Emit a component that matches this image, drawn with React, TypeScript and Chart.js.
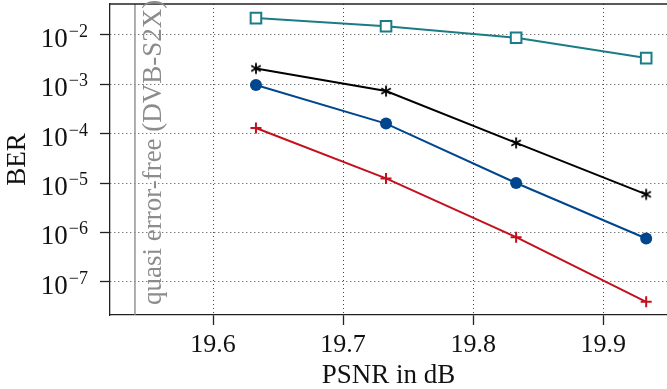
import React, { useEffect, useRef } from "react";
import { Chart, registerables } from "chart.js";

Chart.register(...registerables);

// ---- data ----
const PSNR = [19.633, 19.733, 19.833, 19.933];
const BER_TEAL = [2.2e-2, 1.5e-2, 8.8e-3, 3.4e-3];
const BER_BLACK = [2.1e-3, 7.3e-4, 6.5e-5, 5.9e-6];
const BER_BLUE = [9.7e-4, 1.6e-4, 1.0e-5, 7.5e-7];
const BER_RED = [1.3e-4, 1.24e-5, 8.0e-7, 3.9e-8];

const X_TICKS = [19.6, 19.7, 19.8, 19.9];
const Y_TICK_EXPONENTS = [-7, -6, -5, -4, -3, -2];

const X_MIN = 19.5208;
const X_MAX = 19.949;
const Y_MIN_EXP = -7.675;
const Y_MAX_EXP = -1.372;

const QEF_PSNR = 19.54;
const QEF_LABEL = "quasi error-free (DVB-S2X)";

const X_TITLE = "PSNR in dB";
const Y_TITLE = "BER";

const FONT = "'Liberation Serif', 'Times New Roman', serif";

function makeAsterisk(): HTMLCanvasElement {
  const c = document.createElement("canvas");
  c.width = 14;
  c.height = 14;
  const g = c.getContext("2d")!;
  g.strokeStyle = "#000";
  g.lineWidth = 1.8;
  g.lineCap = "butt";
  const r = 5.5;
  for (const a of [90, 30, 150]) {
    const rad = (a * Math.PI) / 180;
    g.beginPath();
    g.moveTo(7 - r * Math.cos(rad), 7 - r * Math.sin(rad));
    g.lineTo(7 + r * Math.cos(rad), 7 + r * Math.sin(rad));
    g.stroke();
  }
  return c;
}

const overlayPlugin = {
  id: "overlay",
  afterDraw(chart: any) {
    const { ctx, chartArea, scales } = chart;
    const y = scales.y;
    const x = scales.x;
    ctx.save();
    // top frame line
    ctx.strokeStyle = "#222";
    ctx.lineWidth = 1.3;
    ctx.beginPath();
    ctx.moveTo(chartArea.left, chartArea.top);
    ctx.lineTo(chartArea.right, chartArea.top);
    ctx.stroke();

    // y tick labels 10^n
    ctx.fillStyle = "#111";
    for (const e of Y_TICK_EXPONENTS) {
      const py = y.getPixelForValue(Math.pow(10, e));
      const rightX = chartArea.left - 22;
      ctx.font = `18px ${FONT}`;
      ctx.textAlign = "right";
      ctx.textBaseline = "alphabetic";
      const sup = "\u2212" + Math.abs(e);
      const supW = ctx.measureText(sup).width;
      ctx.fillText(sup, rightX, py + 2);
      ctx.font = `27px ${FONT}`;
      ctx.fillText("10", rightX - supW - 1, py + 12);
    }

    // rotated label next to quasi-error-free line
    const lx = x.getPixelForValue(QEF_PSNR);
    ctx.translate(lx + 26, chartArea.bottom - 10);
    ctx.rotate(-Math.PI / 2);
    ctx.font = `27px ${FONT}`;
    ctx.fillStyle = "#8c8c8c";
    ctx.textAlign = "left";
    ctx.textBaseline = "alphabetic";
    ctx.fillText(QEF_LABEL, 0, 0);
    ctx.restore();
  },
};

export default function App() {
  const ref = useRef<HTMLCanvasElement | null>(null);

  useEffect(() => {
    document.body.style.margin = "0";
    const canvas = ref.current!;
    const yMin = Math.pow(10, Y_MIN_EXP);
    const yMax = Math.pow(10, Y_MAX_EXP);
    const pts = (ys: number[]) => PSNR.map((px, i) => ({ x: px, y: ys[i] }));

    const chart = new Chart(canvas, {
      type: "line",
      data: {
        datasets: [
          {
            data: [
              { x: QEF_PSNR, y: yMin },
              { x: QEF_PSNR, y: yMax },
            ],
            borderColor: "#8c8c8c",
            borderWidth: 1.4,
            pointRadius: 0,
          },
          {
            data: pts(BER_TEAL),
            borderColor: "#1a7d85",
            backgroundColor: "#ffffff",
            borderWidth: 2,
            pointStyle: "rect",
            pointRadius: 7.5,
            pointBorderWidth: 2,
          },
          {
            data: pts(BER_BLACK),
            borderColor: "#000000",
            borderWidth: 2,
            pointStyle: makeAsterisk() as any,
          },
          {
            data: pts(BER_BLUE),
            borderColor: "#00468e",
            backgroundColor: "#00468e",
            borderWidth: 2,
            pointStyle: "circle",
            pointRadius: 6,
            pointBorderWidth: 0,
          },
          {
            data: pts(BER_RED),
            borderColor: "#c4101c",
            backgroundColor: "#c4101c",
            borderWidth: 2,
            pointStyle: "cross",
            pointRadius: 5.5,
            pointBorderWidth: 2,
          },
        ],
      },
      options: {
        animation: false,
        responsive: false,
        devicePixelRatio: 1,
        layout: { autoPadding: false, padding: { top: 4, right: 0, left: 0, bottom: 0 } },
        plugins: { legend: { display: false }, tooltip: { enabled: false } },
        elements: { line: { tension: 0 } },
        scales: {
          x: {
            type: "linear",
            min: X_MIN,
            max: X_MAX,
            afterBuildTicks: (s: any) => {
              s.ticks = X_TICKS.map((v) => ({ value: v }));
            },
            afterFit: (s: any) => {
              s.height = 74;
            },
            ticks: {
              callback: (v: any) => Number(v).toFixed(1),
              font: { family: FONT, size: 26 },
              color: "#111",
              padding: 5,
              maxRotation: 0,
              autoSkip: false,
            },
            grid: {
              color: "#444",
              lineWidth: 1,
              tickLength: 10,
              tickColor: "#222",
              tickWidth: 1.3,
              tickBorderDash: [],
            },
            border: { display: true, color: "#222", width: 1.3, dash: [1, 3] },
            title: {
              display: true,
              text: X_TITLE,
              font: { family: FONT, size: 27, lineHeight: 1 },
              color: "#111",
              padding: { top: 0, bottom: 0 },
            },
          },
          y: {
            type: "logarithmic",
            min: yMin,
            max: yMax,
            afterBuildTicks: (s: any) => {
              s.ticks = Y_TICK_EXPONENTS.map((e) => ({ value: Math.pow(10, e) }));
            },
            afterFit: (s: any) => {
              s.width = 110;
            },
            ticks: { display: false },
            grid: {
              color: "#444",
              lineWidth: 1,
              tickLength: 10,
              tickColor: "#222",
              tickWidth: 1.3,
              tickBorderDash: [],
            },
            border: { display: true, color: "#222", width: 1.3, dash: [1, 3] },
            title: {
              display: true,
              text: Y_TITLE,
              font: { family: FONT, size: 27, lineHeight: 1.2 },
              color: "#111",
              padding: { top: 2, bottom: 0 },
            },
          },
        },
      },
      plugins: [overlayPlugin],
    } as any);

    return () => chart.destroy();
  }, []);

  return (
    <canvas
      ref={ref}
      width={667}
      height={389}
      style={{ display: "block", width: 667, height: 389 }}
    />
  );
}
